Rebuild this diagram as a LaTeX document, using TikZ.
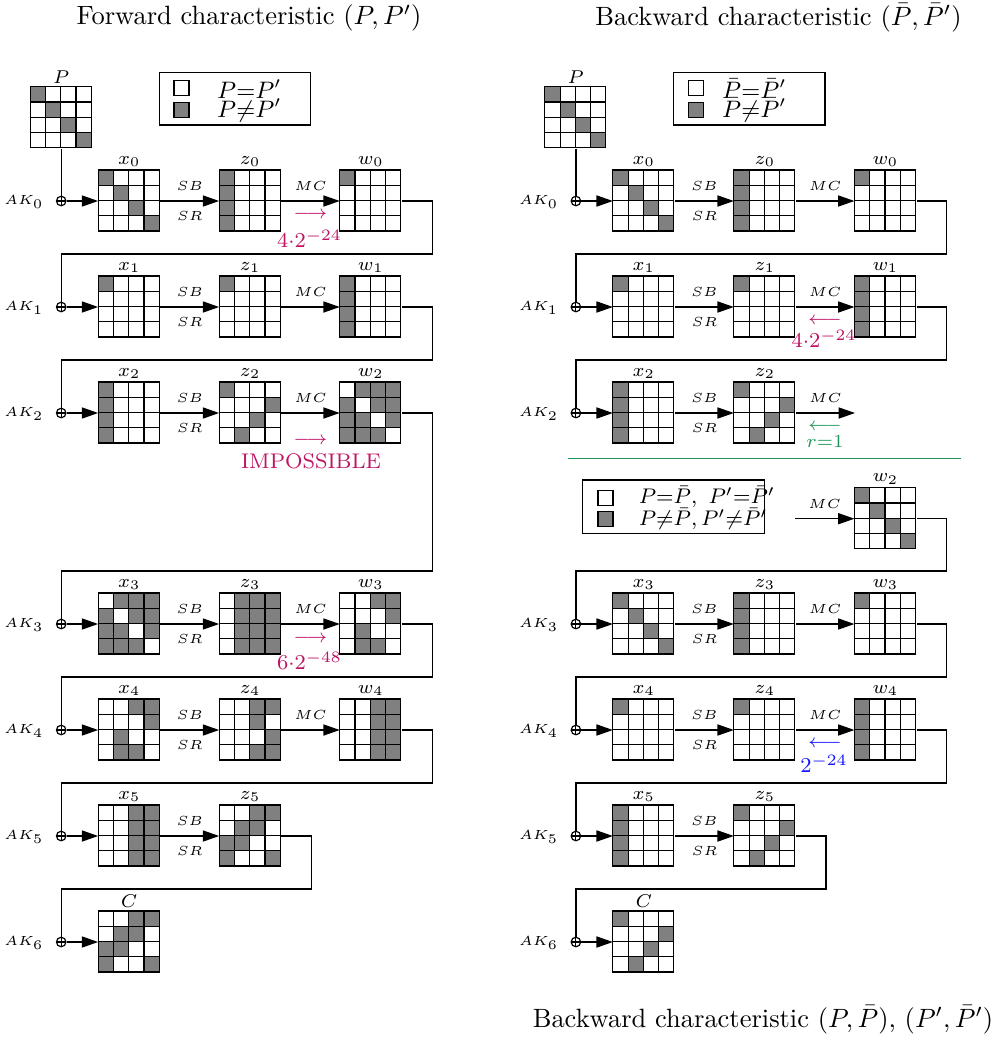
\documentclass[tikz,border=0pt]{standalone}
\usepackage{amsmath,amssymb}
\usetikzlibrary{calc,arrows.meta}
\definecolor{cgray}{RGB}{128,128,128}
\definecolor{cmag}{RGB}{190,20,100}
\definecolor{cgreen}{RGB}{30,150,90}
\definecolor{cblue}{RGB}{20,20,255}
\def\pxu{0.378pt}
\def\pdiag{1,0,0,0,0,1,0,0,0,0,1,0,0,0,0,1}
\def\pcol{1,0,0,0,1,0,0,0,1,0,0,0,1,0,0,0}
\def\ptl{1,0,0,0,0,0,0,0,0,0,0,0,0,0,0,0}
\def\panti{1,0,0,0,0,0,0,1,0,0,1,0,0,1,0,0}
\def\pinv{0,1,1,1,1,0,1,1,1,1,0,1,1,1,1,0}
\def\pthree{0,1,1,1,0,1,1,1,0,1,1,1,0,1,1,1}
\def\pwthree{0,0,1,1,0,0,0,1,0,1,0,0,0,1,1,0}
\def\pzfour{0,0,1,1,0,0,1,0,0,0,0,1,0,0,1,1}
\def\ptwocol{0,0,1,1,0,0,1,1,0,0,1,1,0,0,1,1}
\def\pzfive{0,0,1,1,0,1,1,0,1,1,0,0,1,0,0,1}
\newcommand{\mygrid}[5]{%
  \node[gridbox] (#1) at (#2,#3) {};
  \node[glabel] at (#1.north) {#4};
  \edef\patlist{#5}%
  \foreach \v [count=\i from 0] in \patlist {
    \pgfmathtruncatemacro\rr{div(\i,4)}
    \pgfmathtruncatemacro\cc{mod(\i,4)}
    \ifnum\v=1 \def\fc{cgray}\else\def\fc{white}\fi
    \draw[cellline, fill=\fc] ($(#1.north west)+(\cc*15.25,\rr*15.25)$) rectangle ++(15.25,15.25);
  }
}
\begin{document}
\begin{tikzpicture}[x=\pxu,y=-\pxu,
  gridbox/.style={inner sep=0pt, minimum size={61*\pxu}},
  cellline/.style={line width=0.45pt, draw=black},
  glabel/.style={font=\scriptsize, inner sep=1pt, anchor=south},
  oplusnode/.style={circle, draw, line width=0.45pt, inner sep=0pt, minimum size=3.6pt,
    path picture={\draw[line width=0.45pt] (path picture bounding box.north) -- (path picture bounding box.south) (path picture bounding box.west) -- (path picture bounding box.east);}},
  flow/.style={line width=0.5pt, -{Triangle[length=6.2pt,width=4.2pt]}},
  wire/.style={line width=0.5pt},
  oplabel/.style={font=\tiny, inner sep=0pt},
  aklabel/.style={font=\tiny, inner sep=0pt, anchor=east},
  legbox/.style={draw, line width=0.5pt, inner sep=0pt},
  legsq/.style={draw, line width=0.5pt, inner sep=0pt, minimum size={15*\pxu}},
  legtext/.style={font=\small, inner sep=0pt, anchor=west},
  annot/.style={font=\scriptsize, inner sep=0pt},
  annotl/.style={font=\footnotesize, inner sep=0pt}
]
\useasboundingbox (0,0) rectangle (1003,1037);

% titles
\node (t1) at (249,18) {Forward characteristic $(P,P')$};
\node (t2) at (778.5,18) {Backward characteristic $(\bar{P},\bar{P}')$};
\node (t3) at (763,1020) {Backward characteristic $(P,\bar{P})$, $(P',\bar{P}')$};

% ================= LEFT =================
\node[legbox, minimum width={151.4*\pxu}, minimum height={52.7*\pxu}] (Lleg) at (235,98.7) {};
\node[legsq, fill=white] (Lsq1) at (181.5,88) {};
\node[legsq, fill=cgray] (Lsq2) at (181.5,110) {};
\node[legtext] (Lt1) at (216.7,89) {$P{=}P'$};
\node[legtext] (Lt2) at (216.7,110.5) {$P{\neq}P'$};

\mygrid{LP}{61.2}{117.8}{$P$}{\pdiag}
% row 0
\node[oplusnode] (Lo0) at (61.2,201) {};
\node[aklabel] (Lak0) at (44,202) {$AK_0$};
\mygrid{Lx0}{129.2}{201}{$x_0$}{\pdiag}
\mygrid{Lz0}{250.2}{201}{$z_0$}{\pcol}
\mygrid{Lw0}{370.8}{201}{$w_0$}{\ptl}
% row 1
\node[oplusnode] (Lo1) at (61.2,307) {};
\node[aklabel] (Lak1) at (44,308) {$AK_1$};
\mygrid{Lx1}{129.2}{307}{$x_1$}{\ptl}
\mygrid{Lz1}{250.2}{307}{$z_1$}{\ptl}
\mygrid{Lw1}{370.8}{307}{$w_1$}{\pcol}
% row 2
\node[oplusnode] (Lo2) at (61.2,413) {};
\node[aklabel] (Lak2) at (44,414) {$AK_2$};
\mygrid{Lx2}{129.2}{413}{$x_2$}{\pcol}
\mygrid{Lz2}{250.2}{413}{$z_2$}{\panti}
\mygrid{Lw2}{370.8}{413}{$w_2$}{\pinv}
% row 3
\node[oplusnode] (Lo3) at (61.2,624) {};
\node[aklabel] (Lak3) at (44,625) {$AK_3$};
\mygrid{Lx3}{129.2}{624}{$x_3$}{\pinv}
\mygrid{Lz3}{250.2}{624}{$z_3$}{\pthree}
\mygrid{Lw3}{370.8}{624}{$w_3$}{\pwthree}
% row 4
\node[oplusnode] (Lo4) at (61.2,730) {};
\node[aklabel] (Lak4) at (44,731) {$AK_4$};
\mygrid{Lx4}{129.2}{730}{$x_4$}{\pwthree}
\mygrid{Lz4}{250.2}{730}{$z_4$}{\pzfour}
\mygrid{Lw4}{370.8}{730}{$w_4$}{\ptwocol}
% row 5
\node[oplusnode] (Lo5) at (61.2,836) {};
\node[aklabel] (Lak5) at (44,837) {$AK_5$};
\mygrid{Lx5}{129.2}{836}{$x_5$}{\ptwocol}
\mygrid{Lz5}{250.2}{836}{$z_5$}{\pzfive}
% row 6
\node[oplusnode] (Lo6) at (61.2,942) {};
\node[aklabel] (Lak6) at (44,943) {$AK_6$};
\mygrid{LC}{129.2}{942}{$C$}{\pzfive}

% left connectors
\draw[wire] (LP.south) -- (Lo0);
\foreach \r in {0,1,2,3,4,5} {
  \draw[flow] (Lo\r) -- (Lx\r.west);
  \draw[flow] (Lx\r.east) -- node[oplabel, yshift=5.5pt] {$SB$} node[oplabel, yshift=-5.8pt] {$SR$} (Lz\r.west);
}
\draw[flow] (Lo6) -- (LC.west);
\foreach \r in {0,1,2,3,4} {
  \draw[flow] (Lz\r.east) -- node[oplabel, yshift=5.5pt] {$MC$} (Lw\r.west);
}
\draw[wire] (Lw0.east) -- ++(31,0) |- ($(Lo1)+(0,-53)$) -- (Lo1);
\draw[wire] (Lw1.east) -- ++(31,0) |- ($(Lo2)+(0,-53)$) -- (Lo2);
\draw[wire] (Lw2.east) -- ++(31,0) |- ($(Lo3)+(0,-53)$) -- (Lo3);
\draw[wire] (Lw3.east) -- ++(31,0) |- ($(Lo4)+(0,-53)$) -- (Lo4);
\draw[wire] (Lw4.east) -- ++(31,0) |- ($(Lo5)+(0,-53)$) -- (Lo5);
\draw[wire] (Lz5.east) -- ++(30,0) |- ($(Lo6)+(0,-53)$) -- (Lo6);

% left annotations
\node[annot, text=cmag] (La0) at (310.5,215) {$\longrightarrow$};
\node[annotl, text=cmag] (Lb0) at (309.5,239) {$4{\cdot}2^{-24}$};
\node[annot, text=cmag] (La2) at (310.5,441) {$\longrightarrow$};
\node[font=\footnotesize, text=cmag, inner sep=0pt] (Lb2) at (311,461) {IMPOSSIBLE};
\node[annot, text=cmag] (La3) at (310.5,638.5) {$\longrightarrow$};
\node[annotl, text=cmag] (Lb3) at (309.5,661) {$6{\cdot}2^{-48}$};

% ================= RIGHT =================
\node[legbox, minimum width={151.7*\pxu}, minimum height={52.7*\pxu}] (Rleg) at (749.2,98.7) {};
\node[legsq, fill=white] (Rsq1) at (696,88) {};
\node[legsq, fill=cgray] (Rsq2) at (696,110) {};
\node[legtext] (Rt1) at (721.7,89) {$\bar{P}{=}\bar{P}'$};
\node[legtext] (Rt2) at (721.7,110.5) {$\bar{P}{\neq}\bar{P}'$};

\mygrid{RP}{575.9}{117.8}{$P$}{\pdiag}
% row 0
\node[oplusnode] (Ro0) at (575.9,201) {};
\node[aklabel] (Rak0) at (558.7,202) {$AK_0$};
\mygrid{Rx0}{643.9}{201}{$x_0$}{\pdiag}
\mygrid{Rz0}{764.9}{201}{$z_0$}{\pcol}
\mygrid{Rw0}{885.5}{201}{$w_0$}{\ptl}
% row 1
\node[oplusnode] (Ro1) at (575.9,307) {};
\node[aklabel] (Rak1) at (558.7,308) {$AK_1$};
\mygrid{Rx1}{643.9}{307}{$x_1$}{\ptl}
\mygrid{Rz1}{764.9}{307}{$z_1$}{\ptl}
\mygrid{Rw1}{885.5}{307}{$w_1$}{\pcol}
% row 2
\node[oplusnode] (Ro2) at (575.9,413) {};
\node[aklabel] (Rak2) at (558.7,414) {$AK_2$};
\mygrid{Rx2}{643.9}{413}{$x_2$}{\pcol}
\mygrid{Rz2}{764.9}{413}{$z_2$}{\panti}
\coordinate (Rend2) at (855,413);
% separator
\coordinate (Rsepa) at (568.3,458.3);
\coordinate (Rsepb) at (961,458.3);
\draw[cgreen, line width=0.5pt] (Rsepa) -- (Rsepb);
% lower legend
\node[legbox, minimum width={182*\pxu}, minimum height={53.3*\pxu}] (Rleg2) at (673.3,506.7) {};
\node[legsq, fill=white] (Rsq3) at (605.5,498) {};
\node[legsq, fill=cgray] (Rsq4) at (605.5,518.7) {};
\node[legtext, font=\footnotesize] (Rt3) at (638.3,497) {$P{=}\bar{P},\ P'{=}\bar{P}'$};
\node[legtext, font=\footnotesize] (Rt4) at (638.3,519) {$P{\neq}\bar{P},P'{\neq}\bar{P}'$};
% w2 lower
\coordinate (Rstart) at (795,518.7);
\mygrid{Rw2}{885.5}{518.7}{$w_2$}{\pdiag}
% row 3
\node[oplusnode] (Ro3) at (575.9,624) {};
\node[aklabel] (Rak3) at (558.7,625) {$AK_3$};
\mygrid{Rx3}{643.9}{624}{$x_3$}{\pdiag}
\mygrid{Rz3}{764.9}{624}{$z_3$}{\pcol}
\mygrid{Rw3}{885.5}{624}{$w_3$}{\ptl}
% row 4
\node[oplusnode] (Ro4) at (575.9,730) {};
\node[aklabel] (Rak4) at (558.7,731) {$AK_4$};
\mygrid{Rx4}{643.9}{730}{$x_4$}{\ptl}
\mygrid{Rz4}{764.9}{730}{$z_4$}{\ptl}
\mygrid{Rw4}{885.5}{730}{$w_4$}{\pcol}
% row 5
\node[oplusnode] (Ro5) at (575.9,836) {};
\node[aklabel] (Rak5) at (558.7,837) {$AK_5$};
\mygrid{Rx5}{643.9}{836}{$x_5$}{\pcol}
\mygrid{Rz5}{764.9}{836}{$z_5$}{\panti}
% row 6
\node[oplusnode] (Ro6) at (575.9,942) {};
\node[aklabel] (Rak6) at (558.7,943) {$AK_6$};
\mygrid{RC}{643.9}{942}{$C$}{\panti}

% right connectors
\draw[wire] (RP.south) -- (Ro0);
\foreach \r in {0,1,2,3,4,5} {
  \draw[flow] (Ro\r) -- (Rx\r.west);
  \draw[flow] (Rx\r.east) -- node[oplabel, yshift=5.5pt] {$SB$} node[oplabel, yshift=-5.8pt] {$SR$} (Rz\r.west);
}
\draw[flow] (Ro6) -- (RC.west);
\foreach \r in {0,1,3,4} {
  \draw[flow] (Rz\r.east) -- node[oplabel, yshift=5.5pt] {$MC$} (Rw\r.west);
}
\draw[flow] (Rz2.east) -- node[oplabel, yshift=5.5pt] {$MC$} (Rend2);
\draw[flow] (Rstart) -- node[oplabel, yshift=5.5pt] {$MC$} (Rw2.west);
\draw[wire] (Rw0.east) -- ++(30,0) |- ($(Ro1)+(0,-53)$) -- (Ro1);
\draw[wire] (Rw1.east) -- ++(30,0) |- ($(Ro2)+(0,-53)$) -- (Ro2);
\draw[wire] (Rw2.east) -- ++(30,0) |- ($(Ro3)+(0,-53)$) -- (Ro3);
\draw[wire] (Rw3.east) -- ++(30,0) |- ($(Ro4)+(0,-53)$) -- (Ro4);
\draw[wire] (Rw4.east) -- ++(30,0) |- ($(Ro5)+(0,-53)$) -- (Ro5);
\draw[wire] (Rz5.east) -- ++(30,0) |- ($(Ro6)+(0,-53)$) -- (Ro6);

% right annotations
\node[annot, text=cmag] (Ra1) at (825,320.5) {$\longleftarrow$};
\node[annotl, text=cmag] (Rb1) at (824,339) {$4{\cdot}2^{-24}$};
\node[annot, text=cgreen] (Ra2) at (825,426.5) {$\longleftarrow$};
\node[annot, text=cgreen] (Rb2) at (825,442) {$r{=}1$};
\node[annot, text=cblue] (Ra4) at (825,744) {$\longleftarrow$};
\node[annotl, text=cblue] (Rb4) at (824,764) {$2^{-24}$};
\end{tikzpicture}
\end{document}
